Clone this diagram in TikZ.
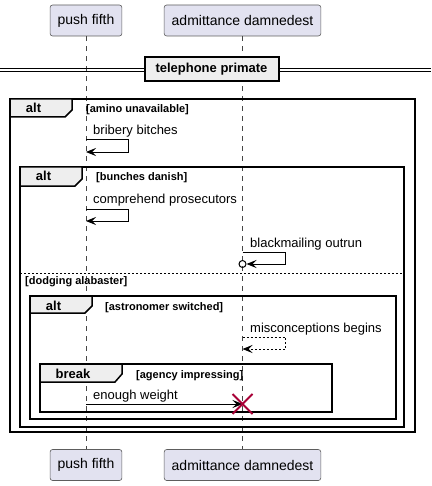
\documentclass[tikz,border=0pt]{standalone}
\usepackage{fontspec}
\setmainfont{Liberation Sans}
\usetikzlibrary{arrows.meta,shapes.misc}
\definecolor{partfill}{HTML}{E2E2F0}
\definecolor{partline}{HTML}{181818}
\definecolor{tabfill}{HTML}{EEEEEE}
\definecolor{killred}{HTML}{A80036}
\tikzset{
  actor/.style={draw=partline!70,fill=partfill,rounded corners=2.5pt,line width=.6pt,
    minimum height=31pt,inner xsep=7.5pt,font=\fontsize{14}{16}\selectfont},
  lifeline/.style={draw=partline!80,line width=.6pt,dash pattern=on 5pt off 5pt},
  msg/.style={line width=.9pt,-{Stealth[length=10pt,width=8pt,inset=4pt]}},
  reply/.style={msg,dash pattern=on 2pt off 2pt},
  msgtext/.style={anchor=base west,inner sep=0pt,font=\fontsize{13}{15}\selectfont},
  frame/.style={line width=1.5pt},
  tab/.style={frame,fill=tabfill},
  tabtext/.style={anchor=base,inner sep=0pt,font=\bfseries\fontsize{13}{15}\selectfont},
  guard/.style={anchor=base west,inner sep=0pt,font=\bfseries\fontsize{11}{13}\selectfont},
}

\begin{document}
\begin{tikzpicture}[x=1pt,y=-1pt]
\useasboundingbox (0,0) rectangle (431,486);
% participants and lifelines
\node[actor] (pf) at (86,20.5) {push fifth};
\node[actor] (ad) at (242.5,20.5) {admittance damnedest};
\node[actor] (pfb) at (86,465) {push fifth};
\node[actor] (adb) at (242.5,465) {admittance damnedest};
\draw[lifeline] (pf) -- (pfb);
\draw[lifeline] (ad) -- (adb);

% divider
\draw[line width=1pt] (0,69) -- (431,69) (0,72) -- (431,72);
\node[draw,line width=2pt,fill=tabfill,minimum width=134pt,minimum height=24pt,
  font=\bfseries\fontsize{13}{15}\selectfont] (div) at (211.5,69.5) {telephone primate};

% alt [amino unavailable]
\draw[frame] (10,99) rectangle (415,432);
\draw[tab] (10,99) -- (72,99) -- (72,110) -- (65,117) -- (10,117) -- cycle;
\node[tabtext] (alta) at (33.5,113) {alt};
\node[guard] (ga) at (86,113) {[amino unavailable]};

% alt [bunches danish] / [dodging alabaster]
\draw[frame] (20,167) rectangle (404,427);
\draw[tab] (20,167) -- (82,167) -- (82,179) -- (75,186) -- (20,186) -- cycle;
\node[tabtext] (altb) at (43.5,181) {alt};
\node[guard] (gb) at (96,181) {[bunches danish]};
\draw[line width=.8pt,dash pattern=on 2pt off 2pt] (20,273) -- (404,273);
\node[guard] (gc) at (25,284) {[dodging alabaster]};

% alt [astronomer switched]
\draw[frame] (30,296) rectangle (396,419);
\draw[tab] (30,296) -- (92,296) -- (92,306) -- (85,313) -- (30,313) -- cycle;
\node[tabtext] (altc) at (53.5,310) {alt};
\node[guard] (gd) at (105,310) {[astronomer switched]};

% break [agency impressing]
\draw[frame] (40,364) rectangle (332,412);
\draw[tab] (40,364) -- (122,364) -- (122,374) -- (115,382) -- (40,382) -- cycle;
\node[tabtext] (brk) at (73,378) {break};
\node[guard] (ge) at (136,378) {[agency impressing]};

% messages
\coordinate (bb1) at (86,139); \coordinate (bb2) at (86,152);
\node[msgtext] (bbt) at (93,135) {bribery bitches};
\draw[msg] (bb1) -- ++(42,0) |- (bb2);

\coordinate (cp1) at (86,209); \coordinate (cp2) at (86,221);
\node[msgtext] (cpt) at (93,204) {comprehend prosecutors};
\draw[msg] (cp1) -- ++(42,0) |- (cp2);

\coordinate (bo1) at (242.5,252);
\node[circle,draw,line width=1pt,inner sep=0pt,minimum size=7pt] (lost) at (242.5,264) {};
\node[msgtext] (bot) at (250,247) {blackmailing outrun};
\draw[msg] (bo1) -- ++(43,0) |- (lost.east);

\coordinate (mb1) at (242.5,337); \coordinate (mb2) at (242.5,349);
\node[msgtext] (mbt) at (250,332) {misconceptions begins};
\draw[reply] (mb1) -- ++(43,0) |- (mb2);

\coordinate (ew1) at (86,404); \coordinate (ew2) at (242.5,404);
\node[msgtext] (ewt) at (93,399) {enough weight};
\draw[msg] (ew1) -- (ew2);
\node[cross out,draw=killred,line width=2pt,inner sep=0pt,minimum size=18pt] (kill) at (242.5,404) {};
\end{tikzpicture}
\end{document}
